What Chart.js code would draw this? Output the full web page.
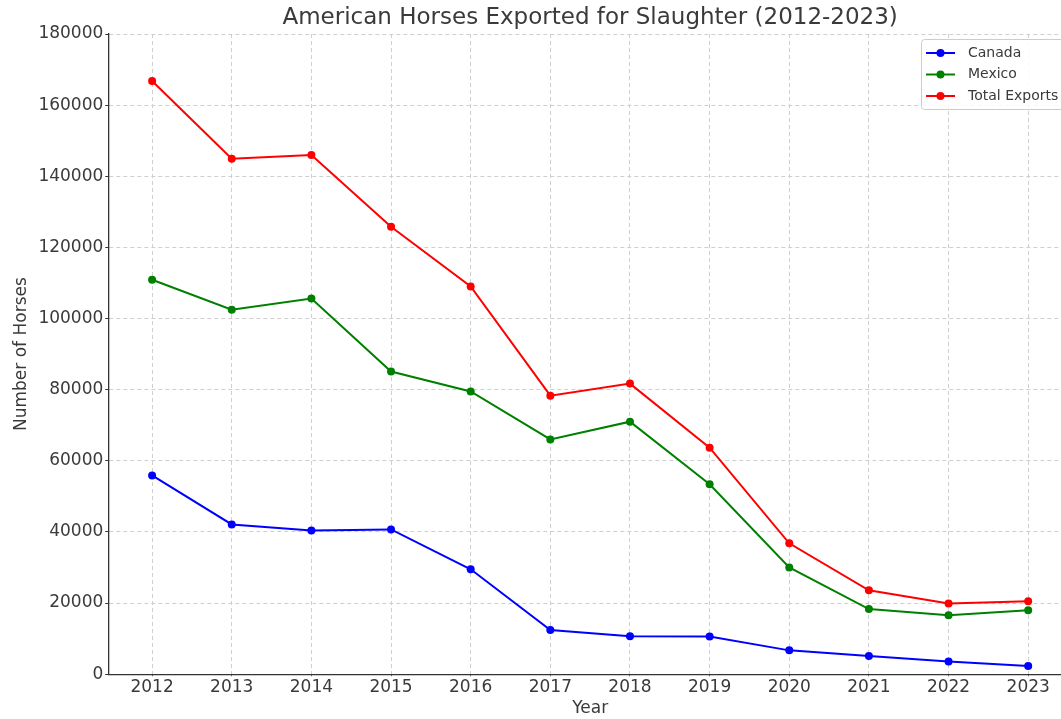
<!DOCTYPE html>
<html>
<head>
<meta charset="utf-8">
<script src="https://cdn.jsdelivr.net/npm/chart.js@4.4.1/dist/chart.umd.min.js"></script>
<style>
html,body{margin:0;padding:0;background:#fff;overflow:hidden;width:1061px;height:719px;}
#wrap{position:absolute;left:0;top:0;width:1080px;height:719px;}
</style>
</head>
<body>
<div id="wrap"><canvas id="c" width="1080" height="719"></canvas></div>
<script>
const years = [2012,2013,2014,2015,2016,2017,2018,2019,2020,2021,2022,2023];
const canada = [55900,42100,40400,40700,29500,12400,10700,10600,6700,5100,3600,2300];
const mexico = [110900,102500,105600,85100,79500,66000,71000,53400,30000,18300,16600,18000];
const total = [166800,144900,146000,125800,109000,78300,81700,63700,36800,23600,19900,20500];
const yTicks = [0,20000,40000,60000,80000,100000,120000,140000,160000,180000];
const titleText = 'American Horses Exported for Slaughter (2012-2023)';

const FONT = "'DejaVu Sans', sans-serif";
const TXT = '#3a3a3a';

function pts(arr){ return years.map((y,i)=>({x:y,y:arr[i]})); }
function ds(label, arr, color){
  return {label, data: pts(arr), borderColor: color, backgroundColor: color,
    borderWidth: 2, pointRadius: 4, pointHoverRadius: 4, pointBorderWidth: 0, tension: 0};
}

const decorPlugin = {
  id: 'mplDecor',
  afterDraw(chart){
    const ctx = chart.ctx, a = chart.chartArea;
    ctx.save();
    // title centred over the plot area
    ctx.fillStyle = TXT;
    ctx.font = '23px ' + FONT;
    ctx.textAlign = 'center';
    ctx.textBaseline = 'middle';
    ctx.fillText(titleText, (a.left + a.right) / 2, a.top - 16);
    // legend
    const w = 144, h = 70;
    const x0 = a.right - 7 - w, y0 = a.top + 5;
    ctx.textAlign = 'left';
    ctx.fillStyle = 'rgba(255,255,255,0.85)';
    ctx.strokeStyle = '#cccccc';
    ctx.lineWidth = 1;
    ctx.beginPath();
    if (ctx.roundRect) ctx.roundRect(x0+0.5, y0+0.5, w, h, 3); else ctx.rect(x0+0.5,y0+0.5,w,h);
    ctx.fill(); ctx.stroke();
    ctx.font = '14px ' + FONT;
    chart.data.datasets.forEach((d,i)=>{
      const yy = y0 + 14 + i*21.5;
      ctx.strokeStyle = d.borderColor; ctx.lineWidth = 2;
      ctx.beginPath(); ctx.moveTo(x0+5, yy); ctx.lineTo(x0+34, yy); ctx.stroke();
      ctx.fillStyle = d.borderColor;
      ctx.beginPath(); ctx.arc(x0+19.5, yy, 4, 0, Math.PI*2); ctx.fill();
      ctx.fillStyle = TXT;
      ctx.fillText(d.label, x0+47, yy);
    });
    ctx.restore();
  }
};

new Chart(document.getElementById('c'), {
  type: 'line',
  data: { datasets: [ds('Canada', canada, '#0000ff'), ds('Mexico', mexico, '#008000'), ds('Total Exports', total, '#ff0000')] },
  options: {
    responsive: false,
    animation: false,
    layout: { padding: { left: 11, right: 8, top: 34, bottom: 0 } },
    plugins: {
      legend: { display: false },
      tooltip: { enabled: false },
      title: { display: false }
    },
    scales: {
      x: {
        type: 'linear', min: 2011.45, max: 2023.55,
        afterBuildTicks: s => { s.ticks = years.map(v=>({value:v})); },
        ticks: { color: TXT, font: { family: FONT, size: 17 }, padding: 1, callback: v => String(v), maxRotation: 0, autoSkip: false },
        grid: { color: '#cfcfcf', lineWidth: 1, tickColor: '#333', tickLength: 2, drawTicks: true },
        border: { display: true, color: '#333', width: 1.3, dash: [4,3] },
        title: { display: true, text: 'Year', color: TXT, font: { family: FONT, size: 17 }, padding: { top: 0, bottom: 0 } }
      },
      y: {
        min: 0, max: 180000,
        afterBuildTicks: s => { s.ticks = yTicks.map(v=>({value:v})); },
        ticks: { color: TXT, font: { family: FONT, size: 17 }, padding: 2, callback: v => String(v) },
        grid: { color: '#cfcfcf', lineWidth: 1, tickColor: '#333', tickLength: 3 },
        border: { display: true, color: '#333', width: 1.3, dash: [4,3] },
        title: { display: true, text: 'Number of Horses', color: TXT, font: { family: FONT, size: 17 }, padding: { top: 0, bottom: 5 } }
      }
    }
  },
  plugins: [decorPlugin]
});
</script>
</body>
</html>
